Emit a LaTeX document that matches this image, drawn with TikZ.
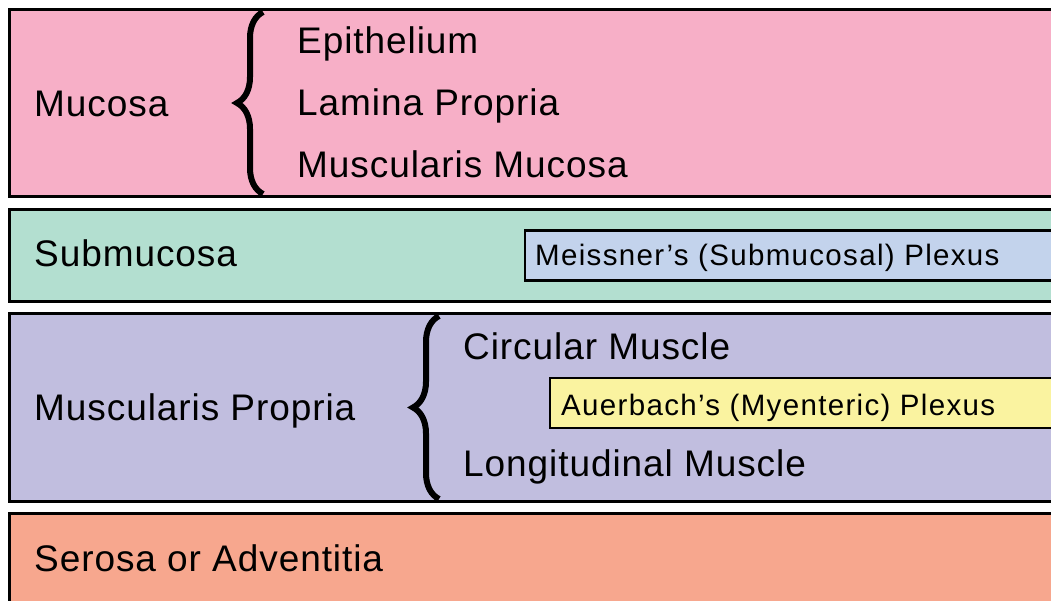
\documentclass[tikz,border=0pt]{standalone}
\usepackage{fontspec}
\setmainfont{Liberation Sans}
\newfontfamily\layerfont[LetterSpace=2.5]{Liberation Sans}
\newfontfamily\plexusfont[LetterSpace=4.5]{Liberation Sans}
\usetikzlibrary{positioning}
\usetikzlibrary{decorations.pathreplacing}

\definecolor{mucosacol}{RGB}{247,175,199}
\definecolor{submucol}{RGB}{179,223,208}
\definecolor{plexusblue}{RGB}{195,211,236}
\definecolor{musccol}{RGB}{193,190,223}
\definecolor{plexusyellow}{RGB}{250,243,160}
\definecolor{serosacol}{RGB}{247,167,142}

\begin{document}
\begin{tikzpicture}[x=1pt, y=-1pt,
		layer/.style={draw, line width=3pt},
		plexus/.style={draw, line width=2.5pt},
		big/.style={anchor=base west, inner sep=0pt, font=\layerfont\fontsize{37}{44}\selectfont},
		small/.style={anchor=base west, inner sep=0pt, font=\plexusfont\fontsize{29.5}{35}\selectfont},
		curly/.style={decorate, decoration={brace, amplitude=26pt}, line width=6pt}
	]
		\useasboundingbox (0,0) rectangle (1051,601);
		\clip (0,0) rectangle (1051,601);
		
		% layers
		\draw[layer, fill=mucosacol] (9.5,9.5) rectangle (1070,197);
		\draw[layer, fill=submucol] (9.5,209.5) rectangle (1070,301.5);
		\draw[plexus, fill=plexusblue] (525,230.5) rectangle (1070,280.5);
		\draw[layer, fill=musccol] (9.5,313.5) rectangle (1070,501.5);
		\draw[plexus, fill=plexusyellow] (550,378) rectangle (1070,428);
		\draw[layer, fill=serosacol] (9.5,513.5) rectangle (1070,640);
		
		% labels
		\node[big] (mucosa) at (34,117) {Mucosa};
		\node[big] (epi) at (297,53.5) {Epithelium};
		\node[big] (lamina) at (297,116) {Lamina Propria};
		\node[big] (mm) at (297,178) {Muscularis Mucosa};
		\node[big] (submucosa) at (34,267) {Submucosa};
		\node[small] (meissner) at (535,266) {Meissner’s (Submucosal) Plexus};
		\node[big] (mp) at (34,420) {Muscularis Propria};
		\node[big] (circ) at (463,359) {Circular Muscle};
		\node[small] (auerbach) at (561,415) {Auerbach’s (Myenteric) Plexus};
		\node[big] (long) at (463,476) {Longitudinal Muscle};
		\node[big] (serosa) at (34,571) {Serosa or Adventitia};
		
		% braces
		\coordinate (b1top) at (263,12);
		\coordinate (b1bot) at (263,194);
		\coordinate (b2top) at (439,316);
		\coordinate (b2bot) at (439,499);
		\draw[curly] (b1bot) -- (b1top);
		\draw[curly] (b2bot) -- (b2top);
	\end{tikzpicture}
\end{document}
